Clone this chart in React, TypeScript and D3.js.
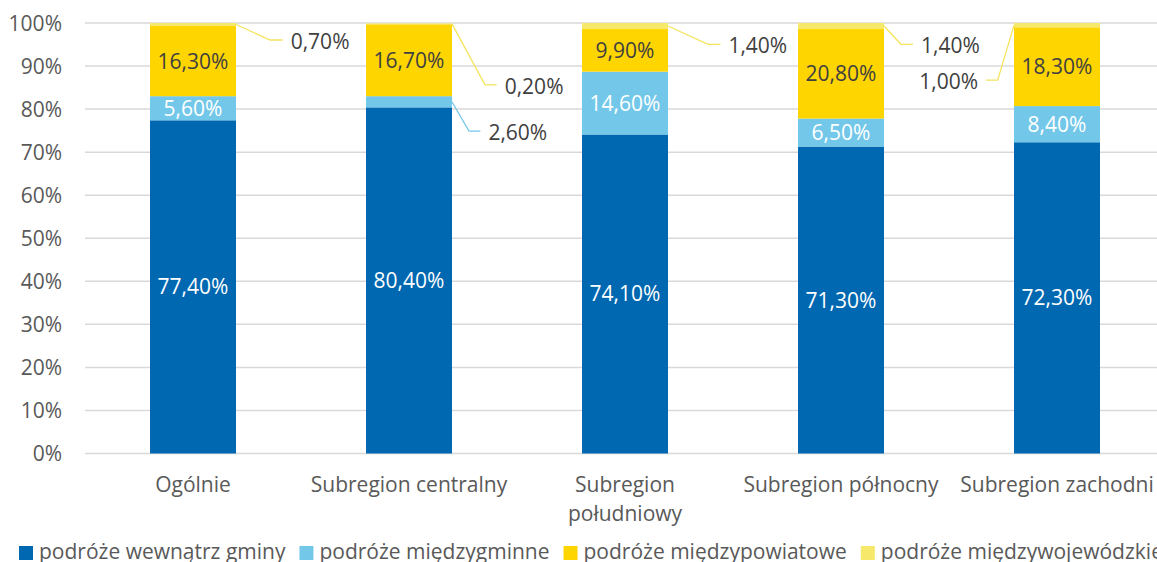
import React, { useEffect, useRef } from 'react';
import * as d3 from 'd3';

const categories = ['Ogólnie', 'Subregion centralny', 'Subregion południowy', 'Subregion północny', 'Subregion zachodni'];
const categoryLines = [['Ogólnie'], ['Subregion centralny'], ['Subregion', 'południowy'], ['Subregion północny'], ['Subregion zachodni']];
const seriesNames = ['podróże wewnątrz gminy', 'podróże międzygminne', 'podróże międzypowiatowe', 'podróże międzywojewódzkie'];
const wewnatrzGminy = [77.4, 80.4, 74.1, 71.3, 72.3];
const miedzygminne = [5.6, 2.6, 14.6, 6.5, 8.4];
const miedzypowiatowe = [16.3, 16.7, 9.9, 20.8, 18.3];
const miedzywojewodzkie = [0.7, 0.2, 1.4, 1.4, 1.0];
const yTicks = [0, 10, 20, 30, 40, 50, 60, 70, 80, 90, 100];

const seriesValues = [wewnatrzGminy, miedzygminne, miedzypowiatowe, miedzywojewodzkie];
const colors = ['#0067B1', '#73C8E9', '#FFD500', '#F6E86A'];
const labelColors = ['#FFFFFF', '#FFFFFF', '#404040', '#404040'];

// callout label layout (series index, category index, side, elbow offset, horizontal length)
const callouts = [
  { s: 3, c: 0, side: 1, dx: 34, dy: 15.5, len: 12.7 },
  { s: 3, c: 1, side: 1, dx: 33, dy: 61, len: 11.7 },
  { s: 1, c: 1, side: 1, dx: 17, dy: 29.3, len: 11.4 },
  { s: 3, c: 2, side: 1, dx: 40, dy: 18.3, len: 12.4 },
  { s: 3, c: 3, side: 1, dx: 17, dy: 18.3, len: 12 },
  { s: 3, c: 4, side: -1, dx: 16.3, dy: 55, len: 11.7 },
];

const W = 1157;
const H = 562;
const FONT = '"Open Sans", Lato, sans-serif';
const FS = 21;
const BASE = 7.5;

const fmt = (v: number) => v.toFixed(2).replace('.', ',') + '%';

export default function App() {
  const ref = useRef<SVGSVGElement>(null);

  useEffect(() => {
    const svg = d3.select(ref.current);
    svg.selectAll('*').remove();

    const x = d3.scaleBand<string>().domain(categories).range([85, 1165]).paddingInner(0.602).paddingOuter(0.301);
    const y = d3.scaleLinear().domain([0, 100]).range([453.5, 23]);

    const rows = categories.map((c, i) => {
      const r: any = { cat: c };
      seriesNames.forEach((s, k) => (r[s] = seriesValues[k][i]));
      return r;
    });
    const stacked = d3.stack<any>().keys(seriesNames)(rows);

    // gridlines
    svg.append('g')
      .selectAll('line')
      .data(yTicks)
      .join('line')
      .attr('x1', 85)
      .attr('x2', 1165)
      .attr('y1', (d) => y(d))
      .attr('y2', (d) => y(d))
      .attr('stroke', '#D9D9D9')
      .attr('stroke-width', 1.5);

    // y tick labels
    svg.append('g')
      .selectAll('text')
      .data(yTicks)
      .join('text')
      .attr('x', 62)
      .attr('y', (d) => y(d) + BASE)
      .attr('text-anchor', 'end')
      .attr('font-family', FONT)
      .attr('font-size', FS)
      .attr('fill', '#595959')
      .text((d) => d + '%');

    // bars
    const inside = (s: number, c: number) => !callouts.some((o) => o.s === s && o.c === c);
    stacked.forEach((layer, k) => {
      const g = svg.append('g');
      g.selectAll('rect')
        .data(layer)
        .join('rect')
        .attr('x', (d: any) => x(d.data.cat)!)
        .attr('width', x.bandwidth())
        .attr('y', (d: any) => y(d[1]))
        .attr('height', (d: any) => y(d[0]) - y(d[1]))
        .attr('fill', colors[k]);
      g.selectAll('text')
        .data(layer.filter((_, i) => inside(k, i)))
        .join('text')
        .attr('x', (d: any) => x(d.data.cat)! + x.bandwidth() / 2)
        .attr('y', (d: any) => y((d[0] + d[1]) / 2) + BASE)
        .attr('text-anchor', 'middle')
        .attr('font-family', FONT)
        .attr('font-size', FS)
        .attr('fill', labelColors[k])
        .text((d: any) => fmt(d[1] - d[0]));
    });

    // callouts
    const cg = svg.append('g');
    callouts.forEach((o) => {
      const seg: any = stacked[o.s][o.c];
      const ax = x(categories[o.c])! + (o.side > 0 ? x.bandwidth() : 0);
      const ay = y((seg[0] + seg[1]) / 2);
      const ex = ax + o.side * o.dx;
      const ey = ay + o.dy;
      const hx = ex + o.side * o.len;
      cg.append('path')
        .attr('d', d3.line()([[ax, ay], [ex, ey], [hx, ey]]))
        .attr('fill', 'none')
        .attr('stroke', colors[o.s] === '#F6E86A' ? '#F4E45C' : colors[o.s])
        .attr('stroke-width', 1.3);
      cg.append('text')
        .attr('x', hx + o.side * 8)
        .attr('y', ey + 1.5 + BASE)
        .attr('text-anchor', o.side > 0 ? 'start' : 'end')
        .attr('font-family', FONT)
        .attr('font-size', FS)
        .attr('fill', '#404040')
        .text(fmt(seg[1] - seg[0]));
    });

    // x labels
    const xg = svg.append('g');
    categories.forEach((c, i) => {
      const t = xg.append('text')
        .attr('text-anchor', 'middle')
        .attr('font-family', FONT)
        .attr('font-size', FS)
        .attr('fill', '#595959');
      categoryLines[i].forEach((line, j) => {
        t.append('tspan')
          .attr('x', x(c)! + x.bandwidth() / 2)
          .attr('y', 492 + j * 29)
          .text(line);
      });
    });

    // legend
    const lg = svg.append('g');
    let cx = 19;
    seriesNames.forEach((name, k) => {
      lg.append('rect').attr('x', cx).attr('y', 546).attr('width', 14).attr('height', 14).attr('fill', colors[k]);
      const t = lg.append('text')
        .attr('x', cx + 20)
        .attr('y', 558.5)
        .attr('font-family', FONT)
        .attr('font-size', FS)
        .attr('fill', '#595959')
        .text(name);
      const w = (t.node() as SVGTextElement).getComputedTextLength();
      cx += 20 + w + 14;
    });
  }, []);

  return (
    <svg
      ref={ref}
      width={W}
      height={H}
      style={{ position: 'absolute', left: 0, top: 0, background: '#fff' }}
    />
  );
}
